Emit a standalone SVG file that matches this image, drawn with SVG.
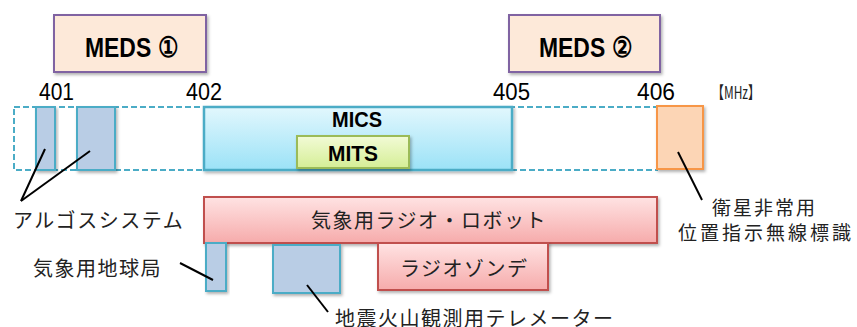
<svg xmlns="http://www.w3.org/2000/svg" width="857" height="327" viewBox="0 0 857 327">
<defs>
<linearGradient id="gMics" x1="0" y1="0" x2="0" y2="1"><stop offset="0" stop-color="#e2f7fd"/><stop offset="1" stop-color="#9be2f7"/></linearGradient>
<linearGradient id="gMits" x1="0" y1="0" x2="0" y2="1"><stop offset="0" stop-color="#f2fbd6"/><stop offset="1" stop-color="#d5ee96"/></linearGradient>
<linearGradient id="gRed" x1="0" y1="0" x2="0" y2="1"><stop offset="0" stop-color="#ffe3e3"/><stop offset="1" stop-color="#f6abab"/></linearGradient>
<filter id="sh" x="-10%" y="-10%" width="130%" height="140%"><feDropShadow dx="1.5" dy="2" stdDeviation="1.5" flood-color="#000" flood-opacity="0.3"/></filter>
</defs>
<style>
.meds{fill:#fde9d9;stroke:#8064a2;stroke-width:2;filter:url(#sh)}
.blue{fill:#b9cde5;stroke:#4bacc6;stroke-width:2;filter:url(#sh)}
.red{fill:url(#gRed);stroke:#c0504d;stroke-width:2;filter:url(#sh)}
.lat{font-family:"Liberation Sans",Arial,sans-serif;fill:#000}
.b{font-weight:bold}
.jp{font-family:"Noto Sans CJK JP","Noto Sans",sans-serif;font-size:20px;letter-spacing:1.5px;fill:#222}
.ln{stroke:#000;stroke-width:2;fill:none}
</style>

<g id="meds1"><rect class="meds" x="54" y="15" width="152" height="57"/><text class="lat b" x="85" y="57" font-size="28" textLength="93" lengthAdjust="spacingAndGlyphs">MEDS ①</text></g>
<g id="meds2"><rect class="meds" x="509" y="15" width="151" height="57"/><text class="lat b" x="539" y="57" font-size="28" textLength="93" lengthAdjust="spacingAndGlyphs">MEDS ②</text></g>

<g id="scale">
<text class="lat" x="39" y="100" font-size="24" textLength="35" lengthAdjust="spacingAndGlyphs">401</text>
<text class="lat" x="186" y="100" font-size="24" textLength="36" lengthAdjust="spacingAndGlyphs">402</text>
<text class="lat" x="493" y="100" font-size="24" textLength="37" lengthAdjust="spacingAndGlyphs">405</text>
<text class="lat" x="637" y="100" font-size="24" textLength="38" lengthAdjust="spacingAndGlyphs">406</text>
<text x="712" y="99" font-family="'Noto Sans CJK JP','Liberation Sans',sans-serif" font-size="17" fill="#222" textLength="48" lengthAdjust="spacingAndGlyphs">【MHz】</text>
</g>

<g id="band"><rect x="14" y="107" width="643" height="63" fill="none" stroke="#4bacc6" stroke-width="2" stroke-dasharray="6,3"/></g>
<g id="argos1"><rect class="blue" x="36" y="107" width="19" height="63"/></g>
<g id="argos2"><rect class="blue" x="77" y="107" width="38" height="63"/></g>
<g id="mics"><rect x="204" y="107" width="308" height="63" fill="url(#gMics)" stroke="#4bacc6" stroke-width="2.5" filter="url(#sh)"/><text class="lat b" x="357" y="127" font-size="22" text-anchor="middle" textLength="50" lengthAdjust="spacingAndGlyphs">MICS</text></g>
<g id="mits"><rect x="297" y="136" width="112" height="32" fill="url(#gMits)" stroke="#9bbb59" stroke-width="2" filter="url(#sh)"/><text class="lat b" x="353" y="161" font-size="22" text-anchor="middle" textLength="50" lengthAdjust="spacingAndGlyphs">MITS</text></g>
<g id="epirb"><rect x="657" y="106" width="46" height="63" fill="#fcd5b5" stroke="#f79646" stroke-width="2" filter="url(#sh)"/></g>

<g id="robot"><rect class="red" x="204" y="197" width="453" height="46"/><text class="jp" x="311" y="228">気象用ラジオ・ロボット</text></g>
<g id="sonde"><rect class="red" x="378" y="243" width="170" height="47"/><text class="jp" x="400" y="276">ラジオゾンデ</text></g>
<g id="earth"><rect class="blue" x="206" y="243" width="20" height="48"/></g>
<g id="tele"><rect class="blue" x="273" y="245" width="67" height="48"/></g>

<g id="connectors">
<line class="ln" x1="45" y1="149" x2="21" y2="201"/>
<line class="ln" x1="90" y1="151" x2="21" y2="201"/>
<line class="ln" x1="678" y1="152" x2="702" y2="200"/>
<line class="ln" x1="180" y1="263" x2="213" y2="280"/>
<line class="ln" x1="307" y1="285" x2="328" y2="312"/>
</g>

<g id="labels">
<text class="jp" x="712" y="215" style="font-size:19px;letter-spacing:2px">衛星非常用</text>
<text class="jp" x="678" y="240" style="font-size:19px;letter-spacing:3px">位置指示無線標識</text>
<text class="jp" x="13" y="228">アルゴスシステム</text>
<text class="jp" x="33" y="276">気象用地球局</text>
<text class="jp" x="335" y="326">地震火山観測用テレメーター</text>
</g>
</svg>
